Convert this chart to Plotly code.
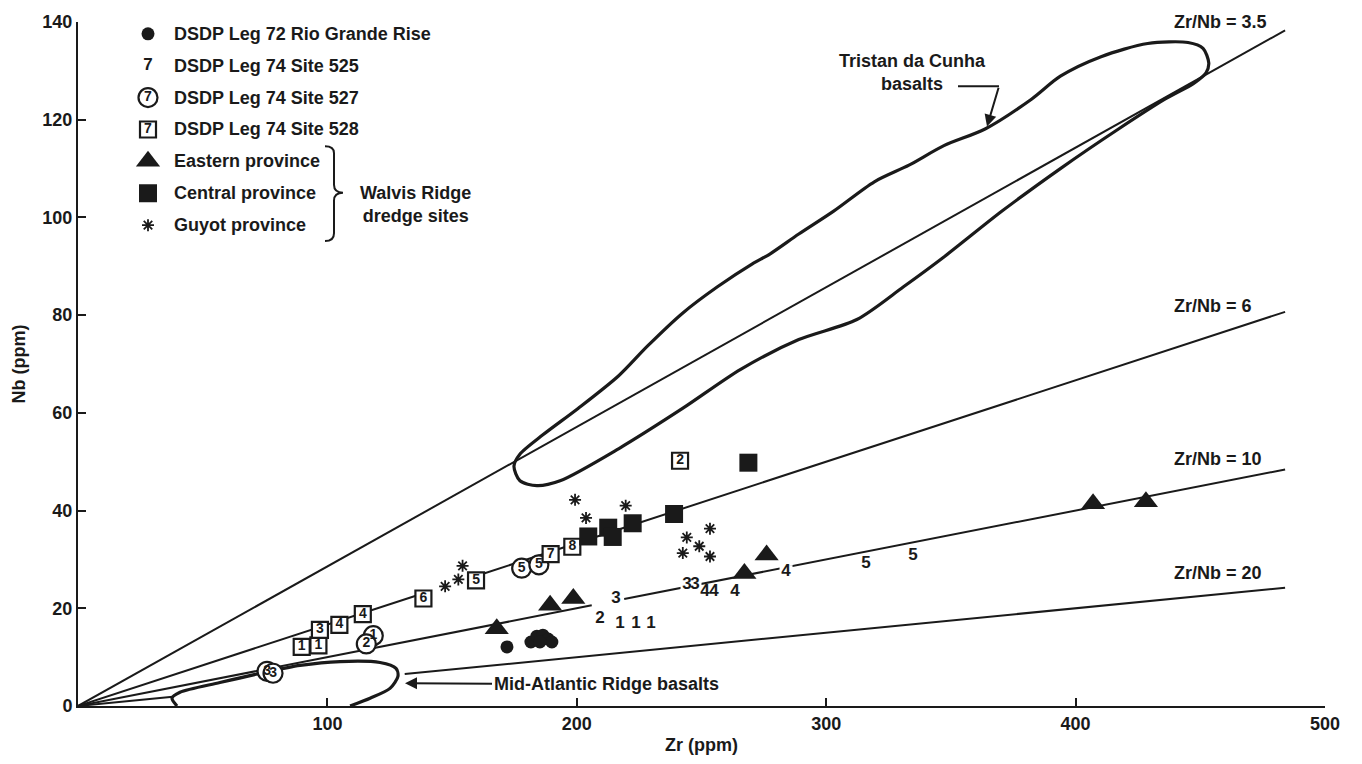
import plotly.graph_objects as go

# ---------------- data (Zr ppm, Nb ppm) ----------------
rio_zr = [172.0, 181.6, 184.0, 186.4, 188.5, 190.0, 185.2]
rio_nb = [12.1, 13.1, 14.3, 14.5, 13.7, 13.1, 13.1]

s525_zr = [209.3, 217.3, 223.7, 229.7, 215.7, 244.2, 247.4, 251.4, 255.0, 263.4, 283.9, 316.0, 334.8]
s525_nb = [17.8, 16.8, 16.8, 16.8, 22.0, 24.8, 24.8, 23.4, 23.4, 23.4, 27.5, 29.1, 30.7]
s525_lab = ["2", "1", "1", "1", "3", "3", "3", "4", "4", "4", "4", "5", "5"]

s527_zr = [75.8, 78.2, 118.4, 115.6, 177.9, 184.8]
s527_nb = [7.1, 6.7, 14.4, 12.7, 28.2, 28.9]
s527_lab = ["3", "3", "1", "2", "5", "5"]

s528_zr = [89.7, 96.4, 97.0, 104.8, 114.2, 138.5, 159.6, 189.5, 198.2, 241.4]
s528_nb = [12.1, 12.4, 15.6, 16.6, 18.8, 22.0, 25.7, 31.1, 32.6, 50.2]
s528_lab = ["1", "1", "3", "4", "4", "6", "5", "7", "8", "2"]

east_zr = [167.9, 189.3, 198.6, 267.2, 276.1, 407.0, 428.2]
east_nb = [15.8, 20.6, 22.0, 27.1, 30.9, 41.4, 41.8]

cent_zr = [204.6, 212.6, 214.4, 222.4, 239.0, 268.8]
cent_nb = [34.7, 36.5, 34.6, 37.4, 39.3, 49.8]

guyot_zr = [147.2, 152.5, 154.2, 199.3, 203.7, 219.6, 253.4, 244.1, 249.1, 242.5, 253.4]
guyot_nb = [24.5, 25.9, 28.7, 42.2, 38.5, 41.0, 36.3, 34.5, 32.7, 31.3, 30.6]

# Zr/Nb reference lines and the Zr intervals where each is drawn
ratios = [3.5, 6, 10, 20]
ratio_segments = {
    3.5: [(0, 484)],
    6: [(0, 137), (160, 484)],
    10: [(0, 206), (219, 484)],
    20: [(0, 38), (131, 484)],
}

# Tristan da Cunha basalt field outline
tdc_zr = [174.8, 177.2, 184.0, 193.3, 216.9, 242.4, 265.7, 289.0, 312.3, 331.0, 347.2, 370.5,
          393.9, 417.2, 435.8, 447.5, 452.3, 453.4, 451.1, 445.1, 428.9, 410.2, 393.9, 382.3,
          363.7, 347.2, 333.2, 319.3, 303.0, 289.0, 277.4, 270.4, 256.4, 242.4, 228.4, 216.8,
          200.5, 186.4, 177.1, 174.8]
tdc_nb = [49.1, 46.1, 45.1, 46.1, 52.7, 60.9, 68.9, 75.0, 79.1, 85.8, 91.9, 101.3,
          110.0, 118.1, 124.2, 127.5, 129.6, 131.6, 134.6, 135.8, 135.6, 132.9, 128.9, 124.2,
          118.1, 114.7, 110.7, 107.3, 101.3, 96.6, 92.5, 90.5, 85.8, 80.4, 73.7, 67.6,
          60.9, 55.5, 51.5, 49.1]

# Mid-Atlantic Ridge basalt field outline (open along the Zr axis)
mar_zr = [39.7, 37.7, 40.9, 56.9, 75.0, 89.0, 105.1, 121.1, 127.5, 128.3, 125.1, 117.1, 109.1]
mar_nb = [0.0, 1.6, 2.8, 4.8, 6.9, 8.3, 9.1, 8.9, 7.7, 6.1, 3.6, 1.6, 0.0]

legend_labels = ["DSDP Leg 72 Rio Grande Rise", "DSDP Leg 74 Site 525", "DSDP Leg 74 Site 527",
                 "DSDP Leg 74 Site 528", "Eastern province", "Central province", "Guyot province"]

# ---------------- layout geometry ----------------
W, H = 1362, 764
X0P, X1P, Y0P, Y1P = 78, 1325, 708, 15
XMAX, YMAX = 500, 140


def zx(px):
    return (px - X0P) * XMAX / (X1P - X0P)


def ny(py):
    return (Y0P - py) * YMAX / (Y0P - Y1P)


INK = "#1a1a1a"
FONT = "Liberation Sans, Arial, Helvetica, sans-serif"

fig = go.Figure()

# reference lines
for r in ratios:
    xs, ys = [], []
    for a, b in ratio_segments[r]:
        xs += [a, b, None]
        ys += [a / r, b / r, None]
    fig.add_trace(go.Scatter(x=xs, y=ys, mode="lines", line=dict(color=INK, width=2),
                             hoverinfo="skip"))

# fields
fig.add_trace(go.Scatter(x=tdc_zr, y=tdc_nb, mode="lines",
                         line=dict(color=INK, width=3.2, shape="spline", smoothing=0.8)))
fig.add_trace(go.Scatter(x=mar_zr, y=mar_nb, mode="lines",
                         line=dict(color=INK, width=3.2, shape="spline", smoothing=0.8)))

# data
fig.add_trace(go.Scatter(x=rio_zr, y=rio_nb, mode="markers",
                         marker=dict(symbol="circle", size=13, color=INK)))
fig.add_trace(go.Scatter(x=s525_zr, y=s525_nb, mode="markers+text", text=s525_lab,
                         textposition="middle center",
                         textfont=dict(family=FONT, size=17, color=INK, weight="bold"),
                         marker=dict(symbol="square", size=13, color="white")))
fig.add_trace(go.Scatter(x=s527_zr, y=s527_nb, mode="markers+text", text=s527_lab,
                         textposition="middle center",
                         textfont=dict(family=FONT, size=14, color=INK, weight="bold"),
                         marker=dict(symbol="circle", size=19, color="white",
                                     line=dict(color=INK, width=2.2))))
fig.add_trace(go.Scatter(x=s528_zr, y=s528_nb, mode="markers+text", text=s528_lab,
                         textposition="middle center",
                         textfont=dict(family=FONT, size=14, color=INK, weight="bold"),
                         marker=dict(symbol="square", size=16, color="white",
                                     line=dict(color=INK, width=2.2))))
fig.add_trace(go.Scatter(x=east_zr, y=east_nb, mode="markers",
                         marker=dict(symbol="triangle-up", size=21, color=INK)))
fig.add_trace(go.Scatter(x=cent_zr, y=cent_nb, mode="markers",
                         marker=dict(symbol="square", size=18, color=INK)))
fig.add_trace(go.Scatter(x=guyot_zr, y=guyot_nb, mode="markers",
                         marker=dict(symbol="asterisk-open", size=10, color=INK,
                                     line=dict(color=INK, width=1.8))))

# ---------------- hand-drawn legend ----------------
leg_rows_px = [27 + 32.3 * i for i in range(len(legend_labels))]
LX = 148
sym_specs = [
    dict(symbol="circle", size=13, color=INK),
    dict(symbol="square", size=12, color="white"),
    dict(symbol="circle", size=19, color="white", line=dict(color=INK, width=2.2)),
    dict(symbol="square", size=16, color="white", line=dict(color=INK, width=2.2)),
    dict(symbol="triangle-up", size=21, color=INK),
    dict(symbol="square", size=18, color=INK),
    dict(symbol="asterisk-open", size=10, color=INK, line=dict(color=INK, width=1.8)),
]
sym_text = ["", "7", "7", "7", "", "", ""]
for i, spec in enumerate(sym_specs):
    fig.add_trace(go.Scatter(x=[zx(LX)], y=[ny(leg_rows_px[i])], mode="markers+text",
                             text=[sym_text[i]], textposition="middle center",
                             textfont=dict(family=FONT, size=14 if i > 1 else 17, color=INK,
                                           weight="bold"),
                             marker=spec))

annotations = []
for i, lab in enumerate(legend_labels):
    annotations.append(dict(x=zx(172), y=ny(leg_rows_px[i]), xref="x", yref="y", text=lab,
                            showarrow=False, xanchor="left", yanchor="middle",
                            font=dict(family=FONT, size=18, color=INK, weight="bold")))
annotations.append(dict(x=zx(415), y=ny(200), xref="x", yref="y",
                        text="Walvis Ridge<br>dredge sites", showarrow=False, align="center",
                        xanchor="center", yanchor="middle",
                        font=dict(family=FONT, size=18, color=INK, weight="bold")))

# brace
bp = [(325, 141), (334, 148), (334, 180), (343, 188), (334, 196), (334, 229), (325, 237)]
path = (f"M {zx(bp[0][0])},{ny(bp[0][1])} Q {zx(334)},{ny(141)} {zx(bp[1][0])},{ny(bp[1][1])} "
        f"L {zx(bp[2][0])},{ny(bp[2][1])} Q {zx(334)},{ny(188)} {zx(bp[3][0])},{ny(bp[3][1])} "
        f"Q {zx(334)},{ny(188)} {zx(bp[4][0])},{ny(bp[4][1])} L {zx(bp[5][0])},{ny(bp[5][1])} "
        f"Q {zx(334)},{ny(237)} {zx(bp[6][0])},{ny(bp[6][1])}")
shapes = [dict(type="path", path=path, xref="x", yref="y", line=dict(color=INK, width=2))]

# ratio labels
for txt, py in [("Zr/Nb = 3.5", 15), ("Zr/Nb = 6", 303), ("Zr/Nb = 10", 458), ("Zr/Nb = 20", 573)]:
    annotations.append(dict(x=zx(1172), y=ny(py), xref="x", yref="y", text=txt,
                            showarrow=False, xanchor="left", yanchor="middle",
                            font=dict(family=FONT, size=18, color=INK, weight="bold")))

# Tristan label + arrow
annotations.append(dict(x=zx(912), y=ny(66), xref="x", yref="y",
                        text="Tristan da Cunha<br>basalts", showarrow=False, align="center",
                        xanchor="center", yanchor="middle",
                        font=dict(family=FONT, size=18, color=INK, weight="bold")))
shapes.append(dict(type="line", x0=zx(958), y0=ny(80), x1=zx(999), y1=ny(80), xref="x", yref="y",
                   line=dict(color=INK, width=2)))
annotations.append(dict(x=zx(987), y=ny(121), ax=zx(999), ay=ny(80), xref="x", yref="y",
                        axref="x", ayref="y", text="", showarrow=True, arrowhead=2,
                        arrowsize=1.2, arrowwidth=2, arrowcolor=INK))

# MAR label + arrow
annotations.append(dict(x=zx(405), y=ny(685), ax=zx(606), ay=ny(686), xref="x", yref="y",
                        axref="x", ayref="y", text="Mid-Atlantic Ridge basalts", showarrow=True,
                        arrowhead=2, arrowsize=1.2, arrowwidth=2, arrowcolor=INK,
                        font=dict(family=FONT, size=18, color=INK, weight="bold")))

fig.update_layout(
    width=W, height=H,
    margin=dict(l=X0P, r=W - X1P, t=Y1P, b=H - Y0P),
    paper_bgcolor="white", plot_bgcolor="white", showlegend=False,
    annotations=annotations, shapes=shapes,
    font=dict(family=FONT, color=INK),
    xaxis=dict(range=[0, XMAX], tickvals=[100, 200, 300, 400, 500], ticks="inside", ticklen=8,
               tickwidth=2, tickcolor=INK, showline=True, linewidth=2, linecolor=INK,
               showgrid=False, zeroline=False,
               tickfont=dict(family=FONT, size=18, color=INK, weight="bold"),
               title=dict(text="Zr (ppm)", standoff=6,
                          font=dict(family=FONT, size=18, color=INK, weight="bold"))),
    yaxis=dict(range=[0, YMAX], tickvals=[0, 20, 40, 60, 80, 100, 120, 140], ticks="inside",
               ticklen=8, tickwidth=2, tickcolor=INK, showline=True, linewidth=2, linecolor=INK,
               showgrid=False, zeroline=False,
               tickfont=dict(family=FONT, size=18, color=INK, weight="bold"),
               title=dict(text="Nb (ppm)", standoff=12,
                          font=dict(family=FONT, size=18, color=INK, weight="bold"))),
)

fig.write_html("out.html")
